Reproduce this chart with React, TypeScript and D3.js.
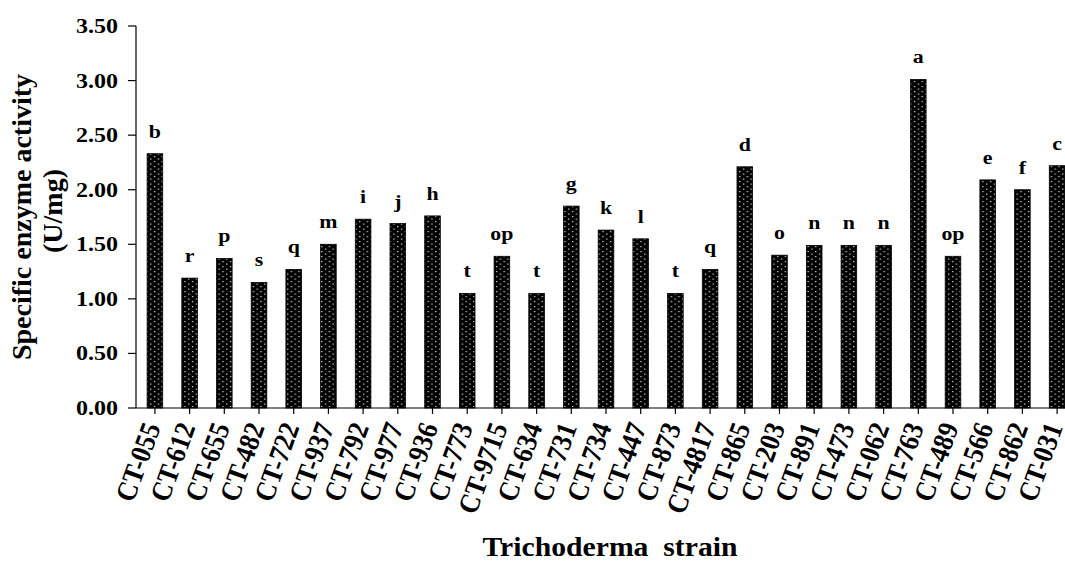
import React from 'react';
import * as d3 from 'd3';

const width = 1065;
const height = 563;

const strains = [
  'CT-055', 'CT-612', 'CT-655', 'CT-482', 'CT-722', 'CT-937', 'CT-792', 'CT-977', 'CT-936',
  'CT-773', 'CT-9715', 'CT-634', 'CT-731', 'CT-734', 'CT-447', 'CT-873', 'CT-4817', 'CT-865',
  'CT-203', 'CT-891', 'CT-473', 'CT-062', 'CT-763', 'CT-489', 'CT-566', 'CT-862', 'CT-031',
];
const activity = [
  2.33, 1.19, 1.37, 1.15, 1.27, 1.5, 1.73, 1.69, 1.76,
  1.05, 1.39, 1.05, 1.85, 1.63, 1.55, 1.05, 1.27, 2.21,
  1.4, 1.49, 1.49, 1.49, 3.01, 1.39, 2.09, 2.0, 2.22,
];
const groups = [
  'b', 'r', 'p', 's', 'q', 'm', 'i', 'j', 'h',
  't', 'op', 't', 'g', 'k', 'l', 't', 'q', 'd',
  'o', 'n', 'n', 'n', 'a', 'op', 'e', 'f', 'c',
];
const yTicks = [0, 0.5, 1, 1.5, 2, 2.5, 3, 3.5];

const font = "'Liberation Serif', 'Times New Roman', serif";

const App = () => {
  const x = d3
    .scaleBand<string>()
    .domain(strains)
    .range([136, 1076])
    .paddingInner(0.55)
    .paddingOuter(0.32);
  const y = d3.scaleLinear().domain([0, 3.5]).range([408, 26]);
  const data = strains.map((s, i) => ({ s, v: activity[i], g: groups[i] }));
  const txt = { fontFamily: font, fontWeight: 'bold' as const };

  return (
    <svg
      width={width}
      height={height}
      style={{ position: 'absolute', left: 0, top: 0, background: '#fff' }}
    >
      <defs>
        <pattern id="dots" patternUnits="userSpaceOnUse" width={7.6} height={5}>
          <rect width={7.6} height={5} fill="#000" />
          <rect x={2} y={1} width={1.2} height={1.2} fill="#e4e4e4" />
          <rect x={5.8} y={3.5} width={1.2} height={1.2} fill="#e4e4e4" />
        </pattern>
      </defs>
      <rect width={width} height={height} fill="#fff" />

      {/* bars */}
      {data.map((d) => (
        <g key={d.s}>
          <rect
            x={x(d.s)}
            y={y(d.v)}
            width={x.bandwidth()}
            height={y(0) - y(d.v)}
            fill="url(#dots)"
            stroke="#000"
            strokeWidth={0.8}
          />
          <text
            transform={`translate(${x(d.s)! + x.bandwidth() / 2},${y(d.v) - 16}) scale(1.15,1)`}
            textAnchor="middle"
            fontSize={19}
            style={txt}
          >
            {d.g}
          </text>
        </g>
      ))}

      {/* y axis */}
      <line x1={136} x2={136} y1={y(3.5)} y2={y(0)} stroke="#000" strokeWidth={1.2} />
      {yTicks.map((t) => (
        <g key={t}>
          <line x1={128} x2={136} y1={y(t)} y2={y(t)} stroke="#000" strokeWidth={1.2} />
          <text
            transform={`translate(118,${y(t) + 7}) scale(1.2,1)`}
            textAnchor="end"
            fontSize={20}
            style={txt}
          >
            {t.toFixed(2)}
          </text>
        </g>
      ))}

      {/* x axis */}
      <line x1={136} x2={1076} y1={y(0)} y2={y(0)} stroke="#000" strokeWidth={1.2} />
      {strains.map((s) => {
        const cx = x(s)! + x.bandwidth() / 2;
        return (
          <g key={s}>
            <line x1={cx} x2={cx} y1={y(0)} y2={y(0) + 6} stroke="#000" strokeWidth={1.2} />
            <text
              transform={`translate(${cx + 6},${y(0) + 19}) rotate(-70) scale(1,1.1)`}
              textAnchor="end"
              fontSize={26}
              style={txt}
            >
              {s}
            </text>
          </g>
        );
      })}

      {/* axis titles */}
      <text
        transform="translate(610,556) scale(1.1,1)"
        textAnchor="middle"
        fontSize={27}
        style={{ ...txt, whiteSpace: 'pre' }}
      >
        {'Trichoderma  strain'}
      </text>
      <text transform="translate(31,217) rotate(-90)" textAnchor="middle" fontSize={28} style={txt}>
        Specific enzyme activity
      </text>
      <text transform="translate(62,211) rotate(-90)" textAnchor="middle" fontSize={28} style={txt}>
        (U/mg)
      </text>
    </svg>
  );
};

export default App;
